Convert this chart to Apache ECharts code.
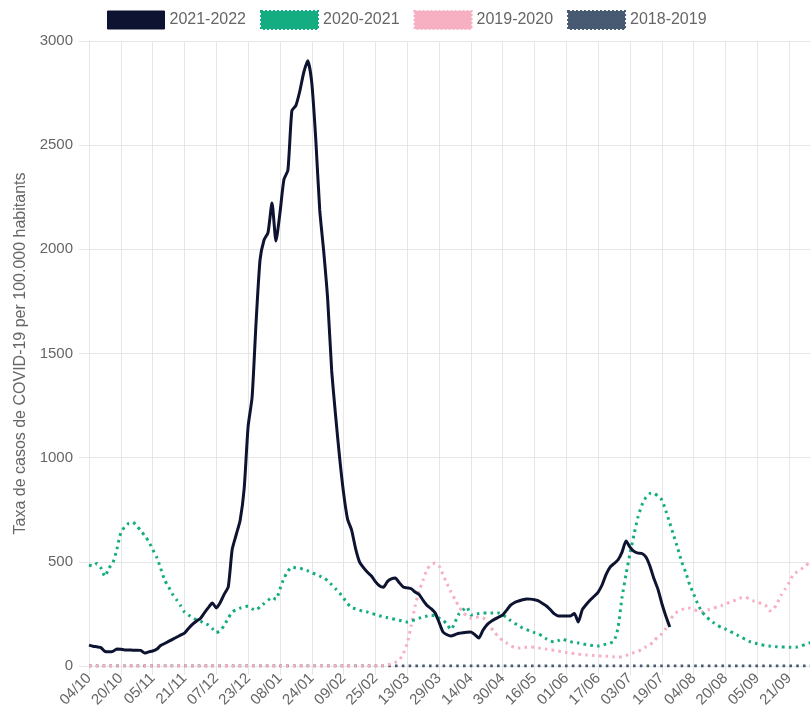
<!DOCTYPE html>
<html>
<head>
<meta charset="utf-8">
<title>Taxa de casos COVID-19</title>
<script src="https://cdn.jsdelivr.net/npm/echarts@6/dist/echarts.min.js"></script>
<style>
  html, body { margin: 0; padding: 0; background: #fff; overflow: hidden; }
  #chart { width: 813px; height: 723px; }
</style>
</head>
<body>
<div id="chart"></div>
<script>
// one category every 2 days, starting 04/10
const dates = [];
for (let i = 0; i < 183; i++) {
  const d = new Date(Date.UTC(2021, 9, 4 + i * 2));
  const dd = String(d.getUTCDate()).padStart(2, "0");
  const mm = String(d.getUTCMonth() + 1).padStart(2, "0");
  dates.push(dd + "/" + mm);
}

const seasons = ["2021-2022", "2020-2021", "2019-2020", "2018-2019"];

const taxa2122 = [
  100, 95, 92, 88, 70, 68, 70, 82, 80, 77,
  77, 76, 76, 75, 62, 68, 72, 80, 98, 108,
  118, 128, 138, 148, 158, 180, 200, 215, 228, 255,
  280, 302, 279, 305, 345, 379, 560, 630, 700, 850,
  1150, 1290, 1650, 1950, 2045, 2080, 2222, 2040, 2174, 2335,
  2380, 2665, 2690, 2760, 2850, 2905, 2800, 2530, 2189, 1990,
  1760, 1420, 1200, 1000, 830, 705, 653, 565, 500, 472,
  450, 432, 405, 385, 378, 405, 418, 422, 400, 379,
  375, 371, 355, 343, 315, 290, 275, 255, 210, 163,
  150, 144, 150, 157, 160, 162, 163, 150, 134, 170,
  197, 213, 225, 235, 245, 268, 292, 305, 312, 318,
  322, 321, 318, 313, 300, 288, 270, 250, 240, 240,
  240, 240, 252, 211, 270, 295, 317, 335, 355, 390,
  440, 475, 492, 510, 547, 600, 571, 550, 542, 540,
  523, 480, 420, 370, 300, 240, 187
];

const taxa2021 = [
  485, 480, 492, 470, 430, 470, 495, 560, 640, 668,
  685, 690, 672, 650, 625, 598, 560, 523, 470, 413,
  380, 345, 318, 290, 259, 245, 232, 222, 215, 205,
  197, 180, 160, 170, 195, 230, 259, 270, 278, 283,
  288, 275, 268, 285, 300, 315, 330, 320, 370, 420,
  455, 475, 472, 470, 463, 457, 448, 440, 432, 423,
  410, 390, 370, 350, 325, 300, 280, 275, 268, 262,
  259, 253, 247, 241, 237, 232, 228, 224, 220, 215,
  211, 216, 222, 229, 235, 240, 244, 240, 230, 221,
  200, 175, 210, 250, 268, 283, 245, 248, 252, 254,
  254, 254, 254, 254, 245, 232, 218, 205, 193, 182,
  175, 167, 160, 155, 143, 130, 120, 115, 122, 130,
  122, 117, 113, 110, 106, 103, 100, 97, 96, 100,
  105, 110, 120, 185, 330, 440, 540, 630, 715, 773,
  810, 828, 830, 815, 797, 745, 686, 625, 565, 500,
  450, 390, 345, 300, 262, 240, 222, 208, 195, 185,
  177, 168, 158, 148, 138, 128, 118, 112, 107, 102,
  98, 96, 94, 92, 91, 91, 90, 90, 91, 96,
  103, 110, 115
];

const taxa1920 = [
  0, 0, 0, 0, 0, 0, 0, 0, 0, 0,
  0, 0, 0, 0, 0, 0, 0, 0, 0, 0,
  0, 0, 0, 0, 0, 0, 0, 0, 0, 0,
  0, 0, 0, 0, 0, 0, 0, 0, 0, 0,
  0, 0, 0, 0, 0, 0, 0, 0, 0, 0,
  0, 0, 0, 0, 0, 0, 0, 0, 0, 0,
  0, 0, 0, 0, 0, 0, 0, 0, 0, 0,
  0, 0, 0, 0, 2, 5, 10, 18, 28, 60,
  110, 195, 290, 360, 413, 465, 485, 494, 480, 437,
  395, 355, 320, 285, 258, 240, 230, 233, 235, 232,
  215, 185, 160, 140, 122, 110, 98, 88, 86, 88,
  90, 91, 90, 87, 84, 81, 78, 76, 72, 68,
  65, 62, 60, 57, 55, 53, 52, 50, 49, 48,
  47, 46, 44, 43, 45, 50, 58, 64, 70, 80,
  92, 101, 120, 140, 155, 180, 221, 245, 262, 271,
  276, 278, 272, 264, 260, 266, 272, 278, 284, 290,
  298, 305, 312, 320, 328, 330, 322, 313, 307, 300,
  293, 265, 270, 302, 340, 370, 400, 437, 452, 465,
  478, 495, 505
];

const taxa1819 = [
  0, 0, 0, 0, 0, 0, 0, 0, 0, 0,
  0, 0, 0, 0, 0, 0, 0, 0, 0, 0,
  0, 0, 0, 0, 0, 0, 0, 0, 0, 0,
  0, 0, 0, 0, 0, 0, 0, 0, 0, 0,
  0, 0, 0, 0, 0, 0, 0, 0, 0, 0,
  0, 0, 0, 0, 0, 0, 0, 0, 0, 0,
  0, 0, 0, 0, 0, 0, 0, 0, 0, 0,
  0, 0, 0, 0, 0, 0, 0, 0, 0, 0,
  0, 0, 0, 0, 0, 0, 0, 0, 0, 0,
  0, 0, 0, 0, 0, 0, 0, 0, 0, 0,
  0, 0, 0, 0, 0, 0, 0, 0, 0, 0,
  0, 0, 0, 0, 0, 0, 0, 0, 0, 0,
  0, 0, 0, 0, 0, 0, 0, 0, 0, 0,
  0, 0, 0, 0, 0, 0, 0, 0, 0, 0,
  0, 0, 0, 0, 0, 0, 0, 0, 0, 0,
  0, 0, 0, 0, 0, 0, 0, 0, 0, 0,
  0, 0, 0, 0, 0, 0, 0, 0, 0, 0,
  0, 0, 0, 0, 0, 0, 0, 0, 0, 0,
  0, 0, 0
];

const colors = {
  "2021-2022": "#0d1331",
  "2020-2021": "#14ad81",
  "2019-2020": "#f7b0c2",
  "2018-2019": "#475a72"
};

const gridColor = "#e6e6e6";
const textColor = "#666";
const font = "'Liberation Sans', Arial, sans-serif";
const dots = [2.6, 4.2];

const chart = echarts.init(document.getElementById("chart"));

const option = {
  animation: false,
  textStyle: { fontFamily: font },
  legend: {
    top: 10,
    left: 107,
    padding: 0,
    itemWidth: 57,
    itemHeight: 18,
    itemGap: 14,
    selectedMode: false,
    icon: "rect",
    textStyle: { color: textColor, fontSize: 16, fontFamily: font },
    data: seasons.map((s, i) => ({
      name: s,
      itemStyle: {
        color: colors[s],
        borderColor: colors[s],
        borderWidth: i === 0 ? 1 : 2,
        borderType: i === 0 ? "solid" : "dotted"
      }
    }))
  },
  grid: { left: 89, right: 0, top: 41, bottom: 57 },
  xAxis: {
    type: "category",
    data: dates,
    boundaryGap: false,
    axisLine: { lineStyle: { color: gridColor } },
    axisTick: { interval: 7, length: 9, lineStyle: { color: gridColor } },
    axisLabel: { interval: 7, rotate: 45, color: textColor, fontSize: 15, margin: 10 },
    splitLine: { show: true, interval: 7, lineStyle: { color: gridColor } }
  },
  yAxis: {
    type: "value",
    min: 0,
    max: 3000,
    interval: 500,
    name: "Taxa de casos de COVID-19 per 100.000 habitants",
    nameLocation: "middle",
    nameGap: 60,
    nameTextStyle: { color: textColor, fontSize: 16 },
    axisLine: { show: true, lineStyle: { color: gridColor } },
    axisTick: { show: true, length: 10, lineStyle: { color: gridColor } },
    axisLabel: {
      color: textColor,
      fontSize: 15,
      margin: 16,
      formatter: (v) => String(v)
    },
    splitLine: { lineStyle: { color: gridColor } }
  },
  series: [
    {
      name: "2018-2019",
      type: "line",
      data: taxa1819,
      showSymbol: false,
      itemStyle: { color: colors["2018-2019"] },
      lineStyle: { width: 3, type: dots, color: colors["2018-2019"] }
    },
    {
      name: "2019-2020",
      type: "line",
      data: taxa1920,
      showSymbol: false,
      smooth: 0.2,
      itemStyle: { color: colors["2019-2020"] },
      lineStyle: { width: 3, type: dots, color: colors["2019-2020"] }
    },
    {
      name: "2020-2021",
      type: "line",
      data: taxa2021,
      showSymbol: false,
      smooth: 0.2,
      itemStyle: { color: colors["2020-2021"] },
      lineStyle: { width: 3, type: dots, color: colors["2020-2021"] }
    },
    {
      name: "2021-2022",
      type: "line",
      data: taxa2122,
      showSymbol: false,
      smooth: 0.2,
      itemStyle: { color: colors["2021-2022"] },
      lineStyle: { width: 3, color: colors["2021-2022"] }
    }
  ]
};

chart.setOption(option);
</script>
</body>
</html>
